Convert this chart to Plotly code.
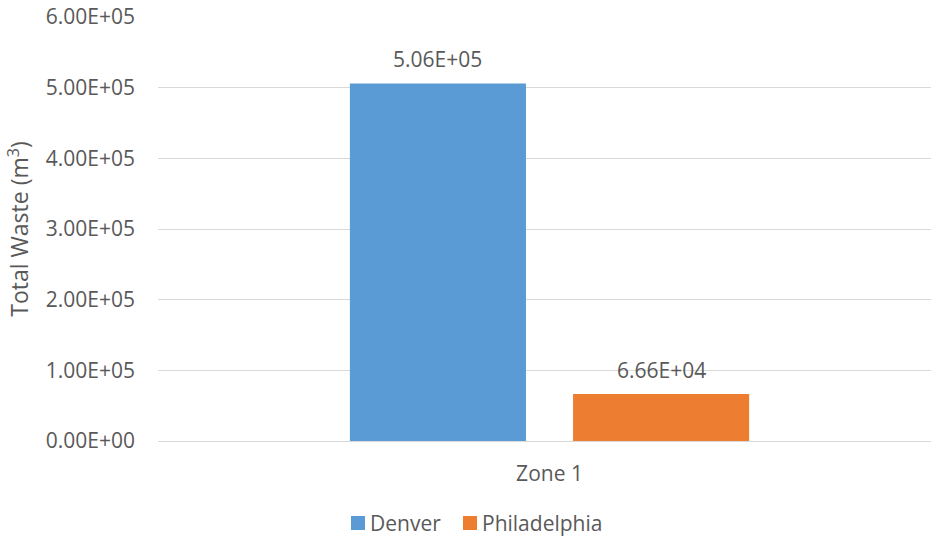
import plotly.graph_objects as go

categories = ["Zone 1"]
denver = [5.06e5]
philadelphia = [6.66e4]
series_names = ["Denver", "Philadelphia"]
series_colors = ["#5B9BD5", "#ED7D31"]
tick_values = [0, 1e5, 2e5, 3e5, 4e5, 5e5, 6e5]
tick_labels = ["{:.2E}".format(v) for v in tick_values]

FONT = "Open Sans"
SIZE = 21
TEXT_COLOR = "#595959"

fig = go.Figure()
for name, vals, color in zip(series_names, [denver, philadelphia], series_colors):
    fig.add_trace(go.Bar(
        x=categories, y=vals, name=name, marker=dict(color=color, line=dict(width=0)),
        showlegend=False,
    ))

# value labels above each bar
offsets = [-0.1425, 0.1425]
for off, vals in zip(offsets, [denver, philadelphia]):
    for i, v in enumerate(vals):
        fig.add_annotation(
            x=i + off, y=v, xref="x", yref="y", text="{:.2E}".format(v),
            showarrow=False, yanchor="bottom", yshift=8,
            font=dict(family=FONT, size=SIZE, color=TEXT_COLOR),
        )

# legend drawn below the axis: colour swatch followed by series name
PLOT_L, PLOT_W, PLOT_B, PLOT_H = 158, 773, 441, 424
def px(x):
    return (x - PLOT_L) / PLOT_W
def py(y):
    return (PLOT_B - y) / PLOT_H

legend_left = [351, 463]
legend_mid = 523
for left, name, color in zip(legend_left, series_names, series_colors):
    fig.add_shape(
        type="rect", xref="paper", yref="paper",
        x0=px(left), x1=px(left + 14), y0=py(legend_mid + 7), y1=py(legend_mid - 7),
        fillcolor=color, line=dict(width=0),
    )
    fig.add_annotation(
        x=px(left + 18), y=py(legend_mid), xref="paper", yref="paper", text=name,
        showarrow=False, xanchor="left", yanchor="middle", borderpad=0,
        font=dict(family=FONT, size=SIZE, color=TEXT_COLOR),
    )

fig.update_layout(
    width=931, height=537,
    margin=dict(l=158, r=0, t=17, b=96),
    paper_bgcolor="white", plot_bgcolor="white",
    barmode="group", bargap=0.43, bargroupgap=0.211,
    font=dict(family=FONT, size=SIZE, color=TEXT_COLOR),
    showlegend=False,
)
fig.update_xaxes(
    type="category", range=[-0.5, 0.4872], showgrid=False, showline=False,
    ticks="", ticklabelstandoff=18,
    tickfont=dict(family=FONT, size=SIZE, color=TEXT_COLOR),
)
fig.update_yaxes(
    range=[0, 6e5], tickvals=tick_values, ticktext=tick_labels,
    showgrid=True, gridcolor="#D9D9D9", gridwidth=1,
    zeroline=True, zerolinecolor="#D9D9D9", zerolinewidth=1,
    ticks="", ticklabelstandoff=22,
    tickfont=dict(family=FONT, size=SIZE, color=TEXT_COLOR),
    title=dict(text="Total Waste (m<sup>3</sup>)", standoff=10,
               font=dict(family=FONT, size=23, color=TEXT_COLOR)),
)

fig.write_html("out.html")
